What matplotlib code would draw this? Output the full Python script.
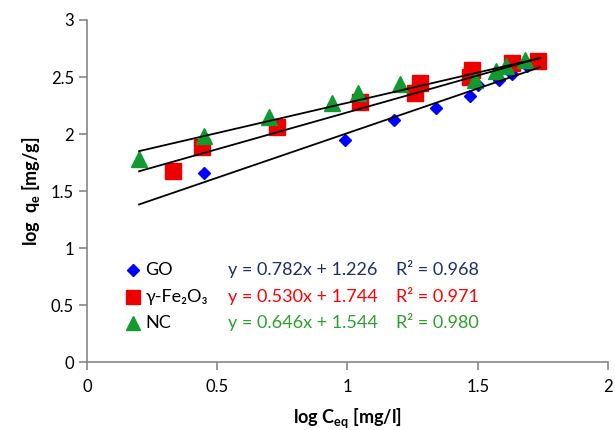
import matplotlib.pyplot as plt
import numpy as np

# data
go_x = [0.45, 0.99, 1.18, 1.34, 1.47, 1.50, 1.58, 1.63, 1.69]
go_y = [1.66, 1.95, 2.12, 2.23, 2.33, 2.43, 2.47, 2.53, 2.60]
fe_x = [0.33, 0.44, 0.73, 1.05, 1.26, 1.28, 1.47, 1.48, 1.63, 1.73]
fe_y = [1.68, 1.89, 2.06, 2.28, 2.36, 2.45, 2.50, 2.56, 2.62, 2.64]
nc_x = [0.20, 0.45, 0.70, 0.94, 1.04, 1.20, 1.49, 1.57, 1.61, 1.68]
nc_y = [1.78, 1.98, 2.15, 2.27, 2.36, 2.44, 2.47, 2.55, 2.60, 2.65]

names = ["GO", "γ-Fe₂O₃", "NC"]
slopes = [0.782, 0.530, 0.646]
intercepts = [1.226, 1.744, 1.544]
r2 = [0.968, 0.971, 0.980]
line_x = [0.20, 1.74]

plt.rcParams['font.family'] = ['Lato', 'DejaVu Sans']

fig = plt.figure(figsize=(6.15, 4.3), dpi=100)
ax = fig.add_axes([0.1415, 0.158, 0.847, 0.7955])

for m, b in zip(slopes, intercepts):
    xs = np.array(line_x)
    ax.plot(xs, m * xs + b, color="black", lw=1.3, zorder=3)

ax.plot(go_x, go_y, "D", color="#0000FF", ms=6.5, zorder=2)
ax.plot(fe_x, fe_y, "s", color="#EE0000", ms=11, zorder=2)
ax.plot(nc_x, nc_y, "^", color="#109A30", ms=11, zorder=2)

# legend-like labels inside the plot
rows_y = [0.81, 0.57, 0.34]
markers = [("D", "#0000FF", 6.5), ("s", "#EE0000", 10), ("^", "#109A30", 10.5)]
eq_colors = ["#1F2D6B", "#FF0000", "#2CA02C"]
for i in range(3):
    mk, c, s = markers[i]
    ax.plot([0.175], [rows_y[i]], mk, color=c, ms=s, clip_on=False)
    ax.text(0.225, rows_y[i], names[i], fontsize=13, va="center", color="black")
    ax.text(0.54, rows_y[i], "y = %.3fx + %.3f" % (slopes[i], intercepts[i]),
            fontsize=13, va="center", color=eq_colors[i])
    ax.text(1.185, rows_y[i], "R² = %.3f" % r2[i], fontsize=13, va="center",
            color=eq_colors[i])

ax.set_xlim(0, 2)
ax.set_ylim(0, 3)
ax.set_xticks([0, 0.5, 1, 1.5, 2])
ax.set_xticklabels(["0", "0.5", "1", "1.5", "2"])
ax.set_yticks([0, 0.5, 1, 1.5, 2, 2.5, 3])
ax.set_yticklabels(["0", "0.5", "1", "1.5", "2", "2.5", "3"])

for s in ["top", "right"]:
    ax.spines[s].set_visible(False)
for s in ["left", "bottom"]:
    ax.spines[s].set_color("#868686")
    ax.spines[s].set_linewidth(1.2)
ax.tick_params(direction="out", length=6, width=1.2, color="#868686",
               labelsize=12, labelcolor="black")
ax.tick_params(axis="x", pad=6)

ax.set_xlabel(r"log C$_\mathregular{eq}$ [mg/l]", fontsize=13, fontweight="bold", labelpad=8)
ax.set_ylabel(r"log  q$_\mathregular{e}$ [mg/g]", fontsize=13, fontweight="bold", labelpad=6)

fig.savefig("out.png", dpi=100)
